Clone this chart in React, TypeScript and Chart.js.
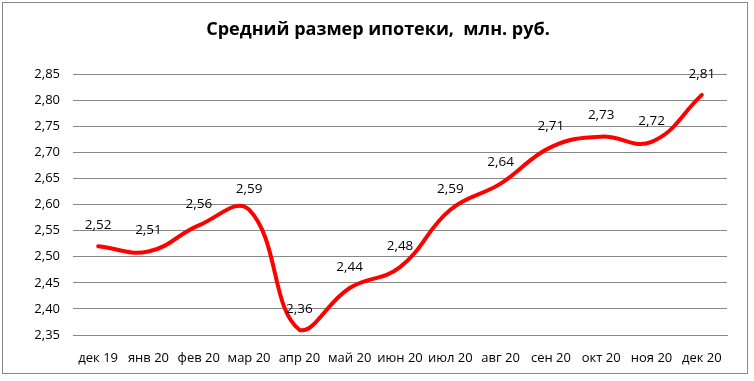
import React, { useEffect, useRef } from "react";
import { Chart, registerables } from "chart.js";

Chart.register(...registerables);

const TITLE = "Средний размер ипотеки,  млн. руб.";
const categories = ["дек 19", "янв 20", "фев 20", "мар 20", "апр 20", "май 20", "июн 20", "июл 20", "авг 20", "сен 20", "окт 20", "ноя 20", "дек 20"];
const values = [2.52, 2.51, 2.56, 2.59, 2.36, 2.44, 2.48, 2.59, 2.64, 2.71, 2.73, 2.72, 2.81];
const yMin = 2.35;
const yMax = 2.85;
const yStep = 0.05;

const FONT = "'Open Sans', 'DejaVu Sans', sans-serif";

const fmt = (v: number, d: number) => v.toFixed(d).replace(".", ",");

export default function App() {
  const ref = useRef<HTMLCanvasElement | null>(null);
  useEffect(() => {
    document.body.style.margin = "0";
    const canvas = ref.current!;
    const titlePlugin = {
      id: "customTitle",
      afterDraw(chart: any) {
        const ctx = chart.ctx;
        ctx.save();
        ctx.font = `bold 18px ${FONT}`;
        ctx.fillStyle = "#000";
        ctx.textAlign = "center";
        ctx.textBaseline = "middle";
        ctx.fillText(TITLE, 378, 30);
        ctx.restore();
      },
    };
    const labelPlugin = {
      id: "pointLabels",
      afterDatasetsDraw(chart: any) {
        const ctx = chart.ctx;
        const meta = chart.getDatasetMeta(0);
        ctx.save();
        ctx.font = `13.5px ${FONT}`;
        ctx.fillStyle = "#000";
        ctx.textAlign = "center";
        ctx.textBaseline = "middle";
        meta.data.forEach((pt: any, i: number) => {
          ctx.fillText(fmt(values[i], 2), pt.x, pt.y - 21);
        });
        ctx.restore();
      },
    };
    const chart = new Chart(canvas, {
      type: "line",
      data: {
        labels: categories,
        datasets: [
          {
            data: values,
            borderColor: "#ff0000",
            borderWidth: 4,
            pointRadius: 0,
            tension: 0.42,
            fill: false,
            borderCapStyle: "round",
          },
        ],
      },
      options: {
        responsive: false,
        animation: false,
        layout: { padding: { left: 0, right: 27, top: 74, bottom: 0 } },
        plugins: { legend: { display: false }, title: { display: false }, tooltip: { enabled: false } },
        scales: {
          x: {
            offset: true,
            grid: { display: false, drawTicks: false },
            border: { display: true, color: "#888888", width: 1 },
            ticks: { color: "#000", font: { family: FONT, size: 13 }, padding: 15, autoSkip: false, maxRotation: 0 },
            afterFit: (s: any) => { s.height = 46; },
          },
          y: {
            min: yMin,
            max: yMax,
            grid: { color: "#888888", lineWidth: 1, drawTicks: false },
            border: { display: false },
            ticks: {
              stepSize: yStep,
              color: "#000",
              padding: 13,
              font: { family: FONT, size: 13 },
              callback: (v: any) => fmt(Number(v), 2),
            },
            afterFit: (s: any) => { s.width = 73; },
          },
        },
      },
      plugins: [titlePlugin, labelPlugin],
    } as any);
    return () => chart.destroy();
  }, []);
  return (
    <div style={{ position: "absolute", left: 0, top: 0, width: 754, height: 381, background: "#fff" }}>
      <canvas ref={ref} width={754} height={381} style={{ position: "absolute", left: 0, top: 0 }} />
      <div style={{ position: "absolute", left: 2, top: 2, width: 744, height: 370, border: "1px solid #888", pointerEvents: "none" }} />
    </div>
  );
}
